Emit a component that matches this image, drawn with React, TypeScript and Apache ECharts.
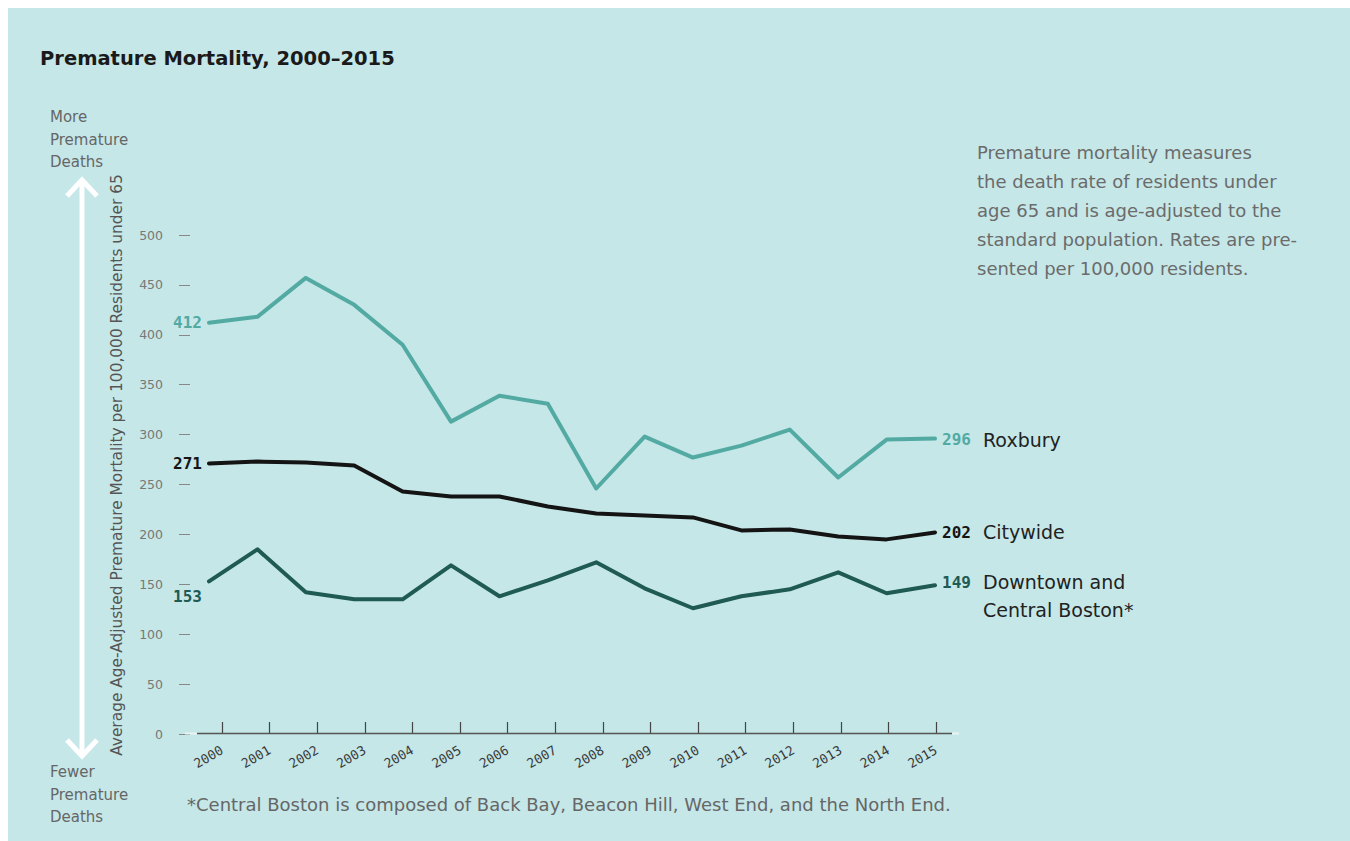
import React, { useEffect, useRef } from "react";
import * as echarts from "echarts";

const years = ["2000","2001","2002","2003","2004","2005","2006","2007","2008","2009","2010","2011","2012","2013","2014","2015"];
const roxbury = [412, 418, 457, 430, 390, 313, 339, 331, 246, 298, 277, 289, 305, 257, 295, 296];
const citywide = [271, 273, 272, 269, 243, 238, 238, 228, 221, 219, 217, 204, 205, 198, 195, 202];
const downtown = [153, 185, 142, 135, 135, 169, 138, 154, 172, 146, 126, 138, 145, 162, 141, 149];
const seriesNames = ["Roxbury", "Citywide", "Downtown and Central Boston*"];
const endNames = ["{n|Roxbury}", "{n|Citywide}", "{n|Downtown and}\n{p|}{n|Central Boston*}"];

const BG = "#c5e7e8";
const TEAL = "#52aaa3";
const BLACK = "#141414";
const DARK = "#1f5a53";

const numFont = "DejaVu Sans Mono";
const textFont = "DejaVu Sans";

function buildData(values: number[], color: string, leftLabel: any, endName: string, rightOffset: number[]) {
  const last = values.length - 1;
  return values.map((v, i) => {
    if (i === 0) {
      return {
        value: v,
        label: {
          show: true,
          position: "left",
          distance: leftLabel.distance,
          offset: leftLabel.offset,
          color,
          fontFamily: numFont,
          fontWeight: "bold",
          fontSize: 16,
          formatter: String(v),
        },
      };
    }
    if (i === last) {
      return {
        value: v,
        label: {
          show: true,
          position: "right",
          distance: 6,
          offset: rightOffset,
          formatter: "{v|" + v + "}" + endName,
          rich: {
            v: { color, fontFamily: numFont, fontWeight: "bold", fontSize: 16, width: 41, lineHeight: 28 },
            p: { width: 41, lineHeight: 28 },
            n: { color: "#222", fontFamily: textFont, fontSize: 19, lineHeight: 28 },
          },
        },
      };
    }
    return v;
  });
}

export default function App() {
  const ref = useRef<HTMLDivElement>(null);
  useEffect(() => {
    document.documentElement.style.overflow = "hidden";
    if (!ref.current) return;
    const chart = echarts.init(ref.current, null, { renderer: "svg" });
    const line = (idx: number, values: number[], color: string, leftLabel: any, rightOffset: number[]) => ({
      name: seriesNames[idx],
      type: "line",
      xAxisIndex: 0,
      yAxisIndex: 0,
      data: buildData(values, color, leftLabel, endNames[idx], rightOffset),
      symbol: "circle",
      symbolSize: 2,
      showSymbol: true,
      lineStyle: { color, width: 4, cap: "round", join: "round" },
      itemStyle: { color },
      label: { show: false },
      z: 3,
    });
    chart.setOption({
      animation: false,
      backgroundColor: BG,
      grid: [
        { left: 201, right: 415, top: 227, bottom: 107, containLabel: false },
        { left: 214, right: 414, top: 227, bottom: 107, containLabel: false },
      ],
      xAxis: [
        {
          type: "category",
          gridIndex: 0,
          data: years,
          boundaryGap: false,
          axisLine: { show: false },
          axisTick: { show: false },
          axisLabel: { show: false },
          splitLine: { show: false },
        },
        {
          type: "category",
          gridIndex: 1,
          data: years,
          boundaryGap: false,
          axisLine: { show: false },
          axisTick: { show: true, inside: true, length: 12, lineStyle: { color: "#444", width: 1.2 } },
          axisLabel: { rotate: 30, margin: 15, color: "#3a3a3a", fontSize: 13, fontFamily: numFont },
          splitLine: { show: false },
        },
      ],
      yAxis: [
        {
          type: "value",
          gridIndex: 0,
          min: 0,
          max: 500,
          interval: 50,
          offset: 19,
          axisLine: { show: false },
          axisTick: { show: true, length: 11, lineStyle: { color: "#888", width: 1 } },
          axisLabel: { margin: 27, color: "#777", fontSize: 12.5, fontFamily: textFont },
          splitLine: { show: false },
        },
        {
          type: "value",
          gridIndex: 1,
          min: 0,
          max: 500,
          show: false,
        },
      ],
      series: [
        line(0, roxbury, TEAL, { distance: 6, offset: [0, 0] }, [0, 1]),
        line(1, citywide, BLACK, { distance: 6, offset: [0, 0] }, [0, 0]),
        line(2, downtown, DARK, { distance: 6, offset: [0, 15] }, [0, 11]),
      ],
      graphic: [
        {
          type: "text",
          left: 32,
          top: 40,
          style: { text: "Premature Mortality, 2000–2015", fill: "#1a1a1a", font: "bold 19.5px 'DejaVu Sans'" },
        },
        {
          type: "text",
          x: 42,
          y: 98,
          style: { text: "More\nPremature\nDeaths", fill: "#666", font: "15px 'DejaVu Sans'", lineHeight: 22.5 },
        },
        {
          type: "text",
          x: 42,
          y: 753,
          style: { text: "Fewer\nPremature\nDeaths", fill: "#666", font: "15px 'DejaVu Sans'", lineHeight: 22.5 },
        },
        { type: "line", shape: { x1: 74, y1: 172, x2: 74, y2: 746 }, style: { stroke: "#fff", lineWidth: 5 } },
        { type: "polyline", shape: { points: [[59, 188], [74, 172], [89, 188]] }, style: { stroke: "#fff", lineWidth: 5, fill: null } },
        { type: "polyline", shape: { points: [[59, 732], [74, 748], [89, 732]] }, style: { stroke: "#fff", lineWidth: 5, fill: null } },
        {
          type: "text",
          x: 109,
          y: 457,
          rotation: Math.PI / 2,
          style: {
            text: "Average Age-Adjusted Premature Mortality per 100,000 Residents under 65",
            fill: "#555",
            font: "15.4px 'DejaVu Sans'",
            align: "center",
            verticalAlign: "middle",
          },
        },
        { type: "line", shape: { x1: 177, y1: 725.5, x2: 189, y2: 725.5 }, style: { stroke: "#e6f4f4", lineWidth: 2 }, z: 2 },
        { type: "line", shape: { x1: 189, y1: 725.5, x2: 944, y2: 725.5 }, style: { stroke: "#555", lineWidth: 1.6 }, z: 2 },
        { type: "line", shape: { x1: 944, y1: 725.5, x2: 951, y2: 725.5 }, style: { stroke: "#e6f4f4", lineWidth: 2 }, z: 2 },
        {
          type: "text",
          x: 969,
          y: 130,
          style: {
            text: "Premature mortality measures\nthe death rate of residents under\nage 65 and is age-adjusted to the\nstandard population. Rates are pre-\nsented per 100,000 residents.",
            fill: "#6b6b6b",
            font: "18px 'DejaVu Sans'",
            lineHeight: 29,
          },
        },
        {
          type: "text",
          x: 179,
          y: 796,
          style: {
            text: "*Central Boston is composed of Back Bay, Beacon Hill, West End, and the North End.",
            fill: "#666",
            font: "18px 'DejaVu Sans'",
            verticalAlign: "middle",
          },
        },
      ],
    });
    return () => chart.dispose();
  }, []);
  return <div ref={ref} style={{ position: "fixed", left: 8, top: 8, width: 1342, height: 833 }} />;
}
